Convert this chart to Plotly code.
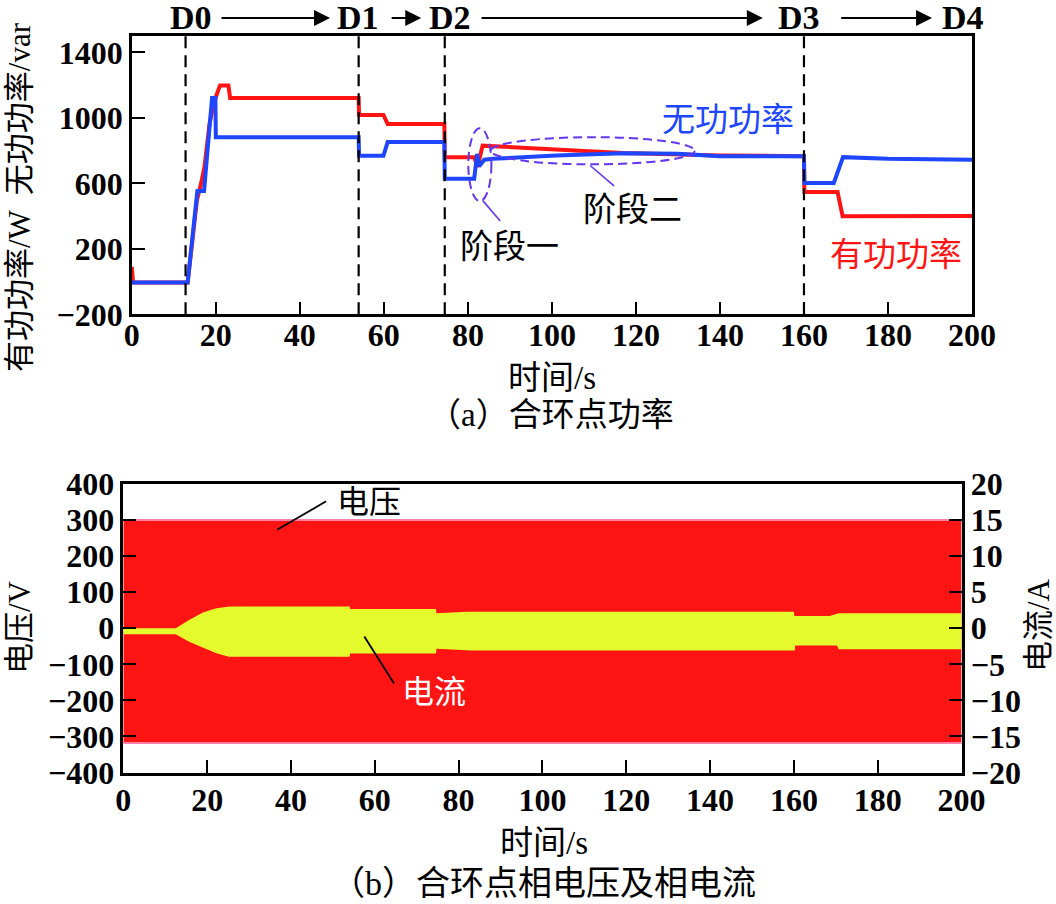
import plotly.graph_objects as go

# ---------------- data: (a) power at loop-closing point ----------------
t_active = [0, 0.3, 13.3, 14.5, 15.5, 16.5, 17.3, 18.5, 19.5, 20.3, 21, 23, 23.4,
            54, 54.1, 59.9, 60.9, 74.4, 74.5, 81.5, 82.3, 83.5, 88, 95, 101, 110,
            117, 140, 160, 160.1, 168, 169.2, 200]
p_active = [90, -5, -5, 250, 496, 600, 700, 963, 1085, 1150, 1197, 1197, 1122,
            1122, 1018, 1018, 963, 963, 760, 760, 700, 830, 825, 815, 805, 795,
            785, 770, 766, 547, 547, 399, 400]

t_reactive = [0, 13.3, 15.6, 17.2, 19.1, 19.9, 20.0, 54, 54.1, 59.9, 60.9, 74.4,
              74.5, 81.5, 82.2, 82.7, 83.9, 86, 101, 117, 130, 140, 160, 160.1,
              167.1, 169.3, 180, 200]
q_reactive = [-5, -5, 553, 553, 1122, 1122, 882, 882, 768, 768, 852, 852,
              628, 628, 780, 705, 744, 750, 770, 784, 780, 766, 766, 602,
              602, 760, 750, 744]

event_t = [12.8, 54.0, 74.5, 160.0]
event_names = ["D0", "D1", "D2", "D3", "D4"]

# ---------------- data: (b) phase voltage and current ----------------
t_volt = [0, 200]
v_upper = [300, 300]
v_lower = [-318, -318]

t_cur_hi = [0, 12.5, 15.7, 19.0, 22.2, 25.4, 54, 54.1, 74.6, 74.7, 82, 160,
            160.1, 168.5, 170.7, 200]
i_upper = [0, 0, 1.15, 2.17, 2.78, 3.0, 3.0, 2.68, 2.68, 2.08, 2.3, 2.3,
           1.7, 1.7, 2.08, 2.08]
t_cur_lo = [0, 12.5, 15.7, 18.8, 22.2, 25.2, 54, 54.1, 74.6, 74.7, 83, 160.2,
            160.3, 170.3, 170.7, 200]
i_lower = [-0.83, -0.83, -1.86, -2.64, -3.47, -3.94, -3.94, -3.5, -3.5, -2.85,
           -3.1, -3.1, -2.4, -2.4, -2.9, -2.9]

x_ticks = list(range(0, 201, 20))
p_ticks = [-200, 200, 600, 1000, 1400]
v_ticks = list(range(-400, 401, 100))
i_ticks = list(range(-20, 21, 5))

# ---------------- styles ----------------
RED = "#FF1414"
BLUE = "#1E46FF"
YELLOW = "#E4FA2C"
PURPLE = "#6436F0"
NUM = "Liberation Serif, Times New Roman, serif"
CJK = "Liberation Serif, Noto Sans CJK SC, serif"
W, H = 1056, 904

TOP_X = (131.8, 972.0)
TOP_Y = (36.0, 314.3)
BOT_X = (123.3, 961.6)
BOT_Y = (484.0, 772.5)


def px_x(px):
    return px / W


def px_y(py):
    return (H - py) / H


tickfont = dict(family=NUM, size=32, color="black", weight="bold")
axis_common = dict(showgrid=False, zeroline=False, showline=True, linecolor="black",
                   linewidth=2.5, ticks="inside", ticklen=13, tickwidth=2,
                   tickcolor="black", tickfont=tickfont, automargin=False)

fig = go.Figure()

# (a)
fig.add_trace(go.Scatter(x=t_active, y=p_active, mode="lines",
                         line=dict(color=RED, width=4), xaxis="x", yaxis="y",
                         showlegend=False))
fig.add_trace(go.Scatter(x=t_reactive, y=q_reactive, mode="lines",
                         line=dict(color=BLUE, width=4), xaxis="x", yaxis="y",
                         showlegend=False))

# (b)
fig.add_trace(go.Scatter(x=t_volt + t_volt[::-1], y=v_upper + v_lower[::-1],
                         mode="lines", fill="toself", fillcolor=RED,
                         line=dict(width=0, color=RED), xaxis="x2", yaxis="y2",
                         showlegend=False))
fig.add_trace(go.Scatter(x=t_volt, y=v_upper, mode="lines",
                         line=dict(width=2, color="#FF7FA6"), xaxis="x2", yaxis="y2",
                         showlegend=False))
fig.add_trace(go.Scatter(x=t_volt, y=v_lower, mode="lines",
                         line=dict(width=2, color="#FF7FA6"), xaxis="x2", yaxis="y2",
                         showlegend=False))
fig.add_trace(go.Scatter(x=t_cur_hi + t_cur_lo[::-1], y=i_upper + i_lower[::-1],
                         mode="lines", fill="toself", fillcolor=YELLOW,
                         line=dict(width=0, color=YELLOW), xaxis="x2", yaxis="y3",
                         showlegend=False))

shapes = []
for t in event_t:
    shapes.append(dict(type="line", xref="x", yref="y domain", x0=t, x1=t, y0=0, y1=1,
                       line=dict(color="black", width=2.2, dash="12px,7px")))
# ellipses
shapes.append(dict(type="circle", xref="x", yref="y", x0=80.1, x1=85.6, y0=492, y1=937,
                   line=dict(color=PURPLE, width=2, dash="9px,5px")))
shapes.append(dict(type="circle", xref="x", yref="y", x0=85.4, x1=134, y0=716, y1=882,
                   line=dict(color=PURPLE, width=2, dash="9px,5px")))
shapes.append(dict(type="line", xref="x", yref="y", x0=83.5, y0=496, x1=87.7, y1=370,
                   line=dict(color=PURPLE, width=1.6)))
shapes.append(dict(type="line", xref="x", yref="y", x0=109.1, y0=709, x1=114.8, y1=584,
                   line=dict(color=PURPLE, width=1.6)))
# leader lines (b)
shapes.append(dict(type="line", xref="x2", yref="y2", x0=48.4, y0=352, x1=36.7, y1=273,
                   line=dict(color="black", width=1.8)))
shapes.append(dict(type="line", xref="x2", yref="y2", x0=57.5, y0=-23, x1=64.6, y1=-153,
                   line=dict(color="black", width=1.8)))

annotations = []
# D labels and arrows above panel (a)
LABEL_Y = px_y(18)
px_per_unit = (TOP_X[1] - TOP_X[0]) / 200.0
d_label_x = [14.1, 53.9, 75.8, 158.8, 197.8]
for name, xx in zip(event_names, d_label_x):
    annotations.append(dict(x=xx, y=LABEL_Y, xref="x", yref="paper", text=name,
                            showarrow=False, xanchor="center", yanchor="middle",
                            font=dict(family=NUM, size=34, color="black", weight="bold")))
arrow_spans = [(21, 47.2), (61.5, 68.9), (82.9, 150.2), (168.5, 190.5)]
for a0, a1 in arrow_spans:
    annotations.append(dict(x=a1, y=LABEL_Y, xref="x", yref="paper",
                            ax=-(a1 - a0) * px_per_unit, ay=0, axref="pixel", ayref="pixel",
                            text="", showarrow=True, arrowhead=2,
                            arrowsize=1.6, arrowwidth=2, arrowcolor="black"))


def label(x, y, text, size, color, xref="x", yref="y", angle=0):
    return dict(x=x, y=y, xref=xref, yref=yref, text=text, showarrow=False,
                xanchor="center", yanchor="middle", textangle=angle,
                font=dict(family=CJK, size=size, color=color))


annotations += [
    label(142, 984, "无功功率", 33, BLUE),
    label(182, 161, "有功功率", 33, RED),
    label(90, 210, "阶段一", 33, "black"),
    label(119.2, 435, "阶段二", 33, "black"),
    label(58.6, 351, "电压", 32, "black", "x2", "y2"),
    label(74.2, -177, "电流", 32, "white", "x2", "y2"),
    label(px_x(19), px_y(197), "有功功率/W  无功功率/var", 31, "black", "paper", "paper", -90),
    label(px_x(552), px_y(378), "时间/s", 33, "black", "paper", "paper"),
    label(px_x(551), px_y(415), "（a）合环点功率", 33, "black", "paper", "paper"),
    label(px_x(19), px_y(627), "电压/V", 31, "black", "paper", "paper", -90),
    label(px_x(1038), px_y(625), "电流/A", 31, "black", "paper", "paper", -90),
    label(px_x(544), px_y(843), "时间/s", 33, "black", "paper", "paper"),
    label(px_x(543), px_y(883), "（b）合环点相电压及相电流", 34, "black", "paper", "paper"),
]

fig.update_layout(
    width=W, height=H, margin=dict(l=0, r=0, t=0, b=0, autoexpand=False),
    paper_bgcolor="white", plot_bgcolor="white", showlegend=False,
    xaxis=dict(domain=[px_x(TOP_X[0]), px_x(TOP_X[1])], range=[0, 200], anchor="y",
               tickvals=x_ticks, mirror=True, ticklabelstandoff=-9, **axis_common),
    yaxis=dict(domain=[px_y(TOP_Y[1]), px_y(TOP_Y[0])], range=[-200, 1500], anchor="x",
               tickvals=p_ticks, mirror=True, **axis_common),
    xaxis2=dict(domain=[px_x(BOT_X[0]), px_x(BOT_X[1])], range=[0, 200], anchor="y2",
                tickvals=x_ticks, mirror=True, ticklabelstandoff=-3, **axis_common),
    yaxis2=dict(domain=[px_y(BOT_Y[1]), px_y(BOT_Y[0])], range=[-400, 400], anchor="x2",
                tickvals=v_ticks, **axis_common),
    yaxis3=dict(range=[-20, 20], overlaying="y2", side="right", anchor="x2",
                tickvals=i_ticks, **axis_common),
    shapes=shapes, annotations=annotations,
)

fig.write_html("out.html")
